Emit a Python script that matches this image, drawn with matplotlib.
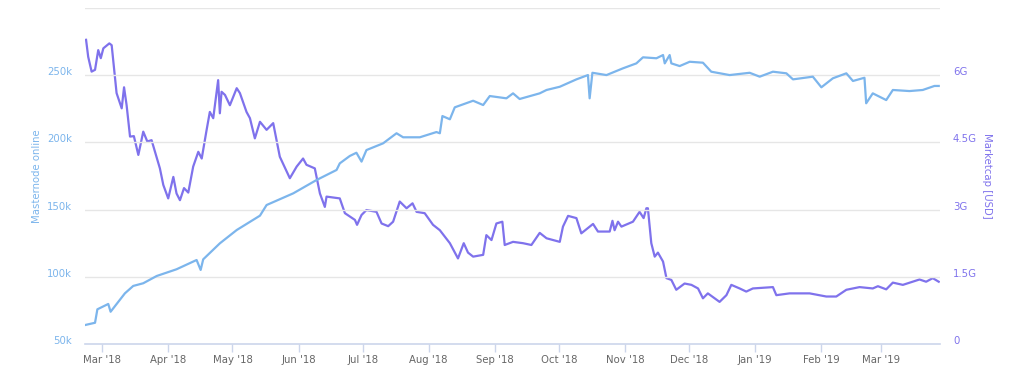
import matplotlib
matplotlib.use("Agg")
import matplotlib.pyplot as plt
import matplotlib.transforms as mtransforms
import numpy as np
import pandas as pd

# ---- data (days since 2018-03-01) ----
base_date = pd.Timestamp("2018-03-01")

mn_days = [-8.1, -3.4, -2.3, 2.8, 3.9, 10.6, 14.5, 19.2, 25.5, 34.8, 44.2, 46.1, 47.3, 55.1,
           63.0, 73.9, 77.0, 89.5, 100.4, 109.8, 111.3, 116.0, 119.1, 121.5, 123.8, 131.6,
           137.9, 141.0, 148.8, 156.6, 158.2, 159.4, 162.9, 165.2, 173.8, 178.5, 181.6,
           189.4, 192.5, 195.6, 205.0, 208.2, 214.4, 222.2, 227.6, 228.4, 229.7, 236.3,
           244.0, 250.3, 253.4, 259.7, 262.8, 263.6, 265.9, 266.7, 270.6, 275.3, 281.5,
           285.4, 294.0, 303.4, 308.1, 314.3, 320.6, 323.7, 333.0, 337.0, 342.4, 348.7,
           351.8, 357.2, 358.0, 361.1, 367.4, 370.5, 378.3, 384.5, 390.0, 392.0]
mn_values = [64.1, 65.8, 75.8, 79.8, 74.0, 87.7, 93.2, 95.2, 100.6, 105.6, 112.5, 105.1, 113.0,
             124.9, 134.8, 145.5, 153.4, 162.1, 172.0, 179.5, 184.4, 189.9, 192.3, 185.7,
             194.3, 199.3, 206.8, 203.8, 203.8, 207.7, 206.8, 219.6, 217.2, 226.1, 231.0,
             227.8, 234.5, 232.8, 236.5, 232.3, 236.5, 239.0, 241.4, 246.9, 250.1, 232.8,
             251.8, 250.1, 255.1, 258.8, 263.3, 262.6, 265.0, 258.8, 265.0, 258.8, 256.8,
             260.0, 259.3, 252.6, 250.1, 251.8, 248.9, 252.6, 251.4, 246.9, 248.9, 241.0,
             247.7, 251.4, 245.7, 248.1, 229.1, 236.5, 231.5, 239.0, 238.2, 239.0, 242.0,
             242.0]  # thousands

mc_days = [-7.6, -6.6, -5.0, -3.4, -1.9, -0.7, 0.5, 3.3, 4.4, 6.7, 9.1, 10.2, 11.4, 13.0,
           14.8, 16.9, 19.2, 21.1, 23.1, 27.0, 28.6, 30.9, 33.3, 34.8, 36.4, 38.3, 40.3,
           42.6, 45.0, 46.6, 48.9, 50.4, 52.0, 54.3, 55.1, 55.9, 57.5, 59.8, 63.0, 64.5,
           67.6, 69.2, 71.5, 73.9, 77.0, 80.1, 83.2, 87.9, 91.1, 94.1, 95.7, 99.6, 102.0,
           104.3, 105.1, 111.3, 113.7, 118.4, 119.4, 121.5, 123.8, 128.5, 130.9, 134.0,
           136.3, 139.4, 142.6, 145.4, 147.3, 151.1, 155.0, 158.2, 162.9, 166.7, 169.4,
           171.4, 173.8, 178.5, 180.0, 182.4, 184.7, 187.5, 188.6, 192.5, 197.2, 201.1,
           205.0, 208.2, 214.4, 215.9, 218.3, 222.2, 224.5, 230.0, 232.3, 237.8, 239.1,
           240.1, 241.7, 243.3, 248.7, 251.8, 253.7, 255.0, 255.7, 257.3, 258.9, 260.4,
           262.8, 264.4, 266.7, 269.0, 272.9, 276.1, 279.2, 281.5, 283.8, 289.3, 292.5,
           294.8, 298.7, 301.8, 304.9, 314.3, 315.9, 322.1, 331.5, 339.3, 344.0, 348.7,
           354.9, 361.1, 363.5, 367.4, 370.5, 375.2, 383.0, 386.1, 389.2, 392.0]
mc_values = [6.79, 6.41, 6.08, 6.12, 6.56, 6.38, 6.60, 6.71, 6.67, 5.60, 5.26, 5.73, 5.33,
             4.63, 4.64, 4.22, 4.74, 4.52, 4.55, 3.92, 3.55, 3.25, 3.73, 3.36, 3.21, 3.48,
             3.38, 3.96, 4.29, 4.14, 4.78, 5.18, 5.04, 5.89, 5.15, 5.63, 5.56, 5.33, 5.71,
             5.60, 5.18, 5.04, 4.59, 4.96, 4.78, 4.93, 4.18, 3.70, 3.96, 4.14, 4.00, 3.92,
             3.36, 3.06, 3.29, 3.25, 2.92, 2.77, 2.66, 2.88, 2.99, 2.95, 2.69, 2.63, 2.73,
             3.18, 3.03, 3.14, 2.95, 2.92, 2.66, 2.54, 2.25, 1.91, 2.25, 2.04, 1.95, 1.99,
             2.43, 2.32, 2.69, 2.73, 2.21, 2.28, 2.25, 2.21, 2.48, 2.36, 2.28, 2.62, 2.86,
             2.81, 2.47, 2.68, 2.51, 2.51, 2.75, 2.54, 2.73, 2.62, 2.73, 2.95, 2.81, 3.03,
             3.03, 2.25, 1.95, 2.04, 1.84, 1.47, 1.43, 1.21, 1.35, 1.32, 1.24, 1.02, 1.13,
             0.94, 1.09, 1.32, 1.24, 1.17, 1.24, 1.27, 1.09, 1.13, 1.13, 1.06, 1.06, 1.21,
             1.27, 1.24, 1.29, 1.22, 1.37, 1.32, 1.44, 1.39, 1.47, 1.39]  # billions USD

left_ticks = [50, 100, 150, 200, 250]
left_labels = ["50k", "100k", "150k", "200k", "250k"]
right_ticks = [0, 1.5, 3, 4.5, 6]
right_labels = ["0", "1.5G", "3G", "4.5G", "6G"]
month_ticks = ["2018-03-01", "2018-04-01", "2018-05-01", "2018-06-01", "2018-07-01",
               "2018-08-01", "2018-09-01", "2018-10-01", "2018-11-01", "2018-12-01",
               "2019-01-01", "2019-02-01", "2019-03-01"]
month_labels = ["Mar '18", "Apr '18", "May '18", "Jun '18", "Jul '18", "Aug '18", "Sep '18",
                "Oct '18", "Nov '18", "Dec '18", "Jan '19", "Feb '19", "Mar '19"]

BLUE = "#7cb5ec"
PURPLE = "#7f72ec"
GRID = "#e6e6e6"
AXIS = "#ccd6eb"
TXT = "#666666"
FS = 7.3

def to_dates(days):
    return base_date + pd.to_timedelta(np.array(days), unit="D")

plt.rcParams['font.family'] = ['DejaVu Sans']
fig = plt.figure(figsize=(10.24, 3.76), dpi=100)
W, H = 1024, 376
x0, x1, ytop, ybot = 85, 940, 8, 344
ax = fig.add_axes([x0 / W, 1 - ybot / H, (x1 - x0) / W, (ybot - ytop) / H])
ax2 = ax.twinx()

ax.set_ylim(50, 300)
ax2.set_ylim(0, 7.5)
xl0 = base_date + pd.Timedelta(days=-8.1)
xl1 = base_date + pd.Timedelta(days=392.6)
ax.set_xlim(xl0, xl1)

for v in [100, 150, 200, 250, 300]:
    ax.axhline(v, color=GRID, lw=1.0, zorder=0)

ax2.plot(to_dates(mc_days), mc_values, color=PURPLE, lw=1.6, zorder=3, solid_joinstyle='round')
ax.plot(to_dates(mn_days), mn_values, color=BLUE, lw=1.6, zorder=3, solid_joinstyle='round')
ax.set_zorder(ax2.get_zorder() + 1)
ax.patch.set_visible(False)

for a in (ax, ax2):
    for s in ["top", "left", "right", "bottom"]:
        a.spines[s].set_visible(False)
ax.axhline(50, color=AXIS, lw=1.2, zorder=1, clip_on=False)

ax.set_xticks(pd.to_datetime(month_ticks))
ax.set_xticklabels(month_labels)
ax.tick_params(axis="x", length=6, width=1, color=AXIS, labelcolor=TXT, labelsize=FS, pad=2)
ax2.tick_params(axis="x", length=0)

ax.set_yticks(left_ticks)
ax.set_yticklabels(left_labels)
ax.tick_params(axis="y", length=0, labelcolor=BLUE, labelsize=FS, pad=9.4)
off = mtransforms.ScaledTranslation(0, 4 / 100, fig.dpi_scale_trans)
for lab in ax.get_yticklabels():
    lab.set_transform(lab.get_transform() + off)

ax2.set_yticks(right_ticks)
ax2.set_yticklabels(right_labels)
ax2.tick_params(axis="y", length=0, labelcolor=PURPLE, labelsize=FS, pad=9.4)
for lab in ax2.get_yticklabels():
    lab.set_transform(lab.get_transform() + off)

fig.text(37 / W, 1 - 176 / H, "Masternode online", rotation=90, color=BLUE, fontsize=FS,
         ha="center", va="center")
fig.text(987 / W, 1 - 176 / H, "Marketcap [USD]", rotation=270, color=PURPLE, fontsize=FS,
         ha="center", va="center")

fig.savefig("out.png", dpi=100)
